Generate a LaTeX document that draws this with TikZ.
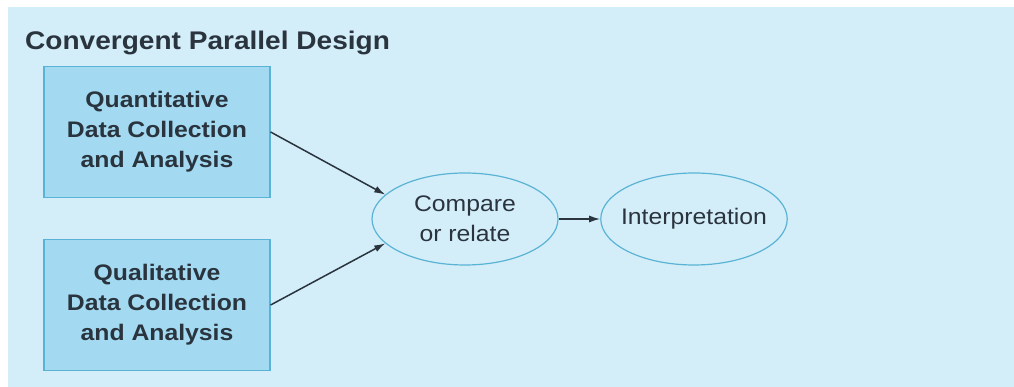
\documentclass[tikz,border=0pt]{standalone}
\usepackage{fontspec}
\setmainfont[FakeStretch=1.1]{Liberation Sans}
\usetikzlibrary{shapes.geometric,arrows.meta}
\definecolor{bgblue}{HTML}{D3EEF9}
\definecolor{boxblue}{HTML}{A3DAF1}
\definecolor{edgeblue}{HTML}{5AB3D4}
\definecolor{inkgray}{HTML}{2A343E}
\tikzset{
  databox/.style={draw=edgeblue, fill=boxblue, line width=1.2pt, minimum width=226pt, minimum height=131pt,
    align=center, text=inkgray, font=\fontsize{22.5}{30}\selectfont\bfseries},
  stagebox/.style={ellipse, draw=edgeblue, fill=bgblue, line width=1.2pt, minimum width=186pt, minimum height=92pt,
    inner xsep=-7pt, inner ysep=0pt, align=center, text=inkgray, font=\fontsize{22.5}{30}\selectfont},
  flow/.style={-{Latex[length=11pt,width=7pt]}, line width=1.5pt, draw=inkgray}
}
\begin{document}
\begin{tikzpicture}[x=1pt, y=1pt]
            \useasboundingbox (0, 0) rectangle (1014, 387);
            \fill[bgblue] (8, -1) rectangle (1015, 380);

            \node[anchor=base west, inner sep=0pt, text=inkgray, font=\fontsize{25.5}{30}\selectfont\bfseries]
                (title) at (25, 337) {Convergent Parallel Design};

            \node[databox] (qnt) at (157, 255) {Quantitative\\Data Collection\\and Analysis};
            \node[databox] (qlt) at (157, 82) {Qualitative\\Data Collection\\and Analysis};

            \node[stagebox] (cmp) at (465, 168) {Compare\\or relate};
            \node[stagebox] (intp) at (694, 168) {Interpretation};

            \draw[flow] (qnt.east) -- (cmp.163);
            \draw[flow] (qlt.east) -- (cmp.197);
            \draw[flow] (cmp.east) -- (intp.west);
        \end{tikzpicture}
\end{document}
